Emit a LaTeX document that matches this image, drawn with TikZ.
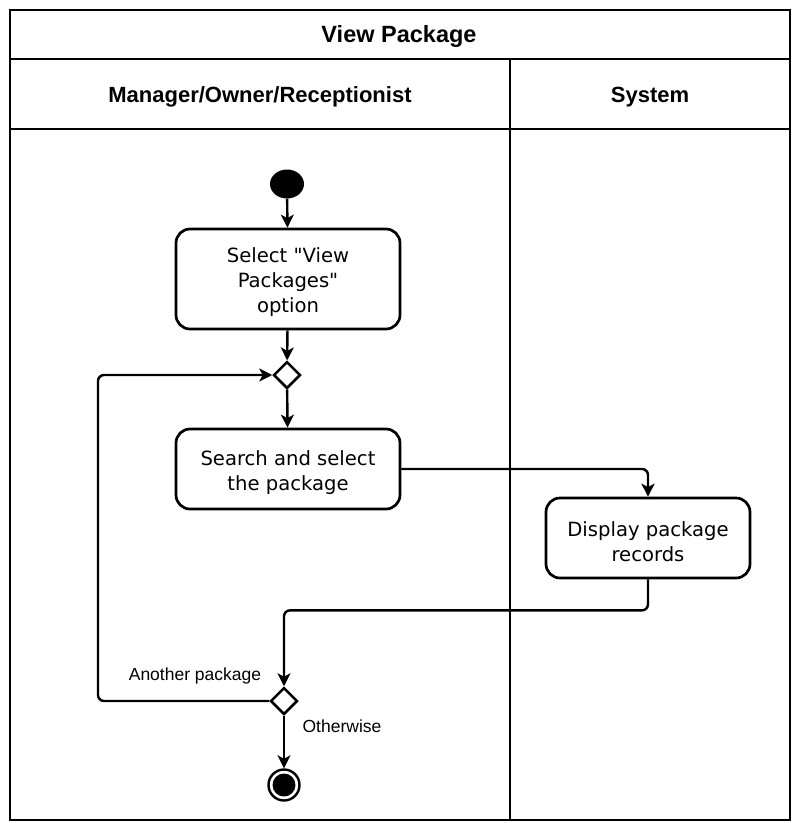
\documentclass[tikz,border=0pt]{standalone}
\usepackage{fontspec}
\setmainfont{Liberation Sans}
\newfontfamily\boxfont{DejaVu Sans}
\usetikzlibrary{positioning, arrows.meta, shapes.geometric}

\tikzset{
  activity/.style={draw, line width=2.7pt, rounded corners=14pt, minimum width=224pt,
    align=center, font=\boxfont\fontsize{19.6}{25}\selectfont},
  decision/.style={draw, diamond, line width=2.5pt, minimum size=27pt, inner sep=0pt, fill=white},
  flow/.style={line width=2.4pt, rounded corners=6pt},
  header/.style={font=\bfseries\fontsize{22}{26}\selectfont},
  guard/.style={font=\fontsize{17.5}{21}\selectfont}
}

\begin{document}
\begin{tikzpicture}[x=1pt, y=-1pt, >={Stealth[length=13pt, width=13pt, inset=3.5pt]}]
  \useasboundingbox (0,0) rectangle (793,823);
  % swimlane frame
  \draw [line width=2.7pt] (10,10) rectangle (790,820);
  \draw [line width=2.7pt] (10,59) -- (790,59);
  \draw [line width=2.7pt] (10,129) -- (790,129);
  \draw [line width=2.7pt] (510,59) -- (510,820);
  \node [header, font=\bfseries\fontsize{23.5}{28}\selectfont] (title) at (399,36) {View Package};
  \node [header] (lane1) at (260,97) {Manager/Owner/Receptionist};
  \node [header] (lane2) at (650,97) {System};

  % activities
  \node [ellipse, fill, minimum width=34pt, minimum height=29pt, inner sep=0pt] (start) at (287,184) {};
  \node [activity, minimum height=100pt] (select) at (288,279) {\rule{0pt}{22pt}Select "View\\Packages"\\option};
  \node [decision] (merge) at (287,375) {};
  \node [activity, minimum height=80pt] (search) at (288,469) {\rule{0pt}{23pt}Search and select\\the package};
  \node [activity, minimum width=204pt, minimum height=80pt] (display) at (648,538) {\rule{0pt}{22pt}Display package\\records};
  \node [decision] (branch) at (284,701) {};
  \node [circle, draw, line width=2.4pt, minimum size=31pt] (stop) at (284,785) {};
  \node [circle, fill, minimum size=23pt] (stopdot) at (stop) {};
  \coordinate (loop) at (98,701);

  % flows
  \draw [flow, ->] (start) -- (select);
  \draw [flow, ->] (select) -- (merge);
  \draw [flow, ->] (merge) -- (search);
  \draw [flow, ->] (search.east) -| (display.north);
  \draw [flow, ->] (display.south) -- ++(0,31) -| (branch.north);
  \draw [flow, ->] (branch.west) -- (loop) |- (merge.west);
  \draw [flow, ->] (branch) -- (stop);
  \node [guard] (another) at (195,676) {Another package};
  \node [guard] (otherwise) at (342,726) {Otherwise};
\end{tikzpicture}
\end{document}
